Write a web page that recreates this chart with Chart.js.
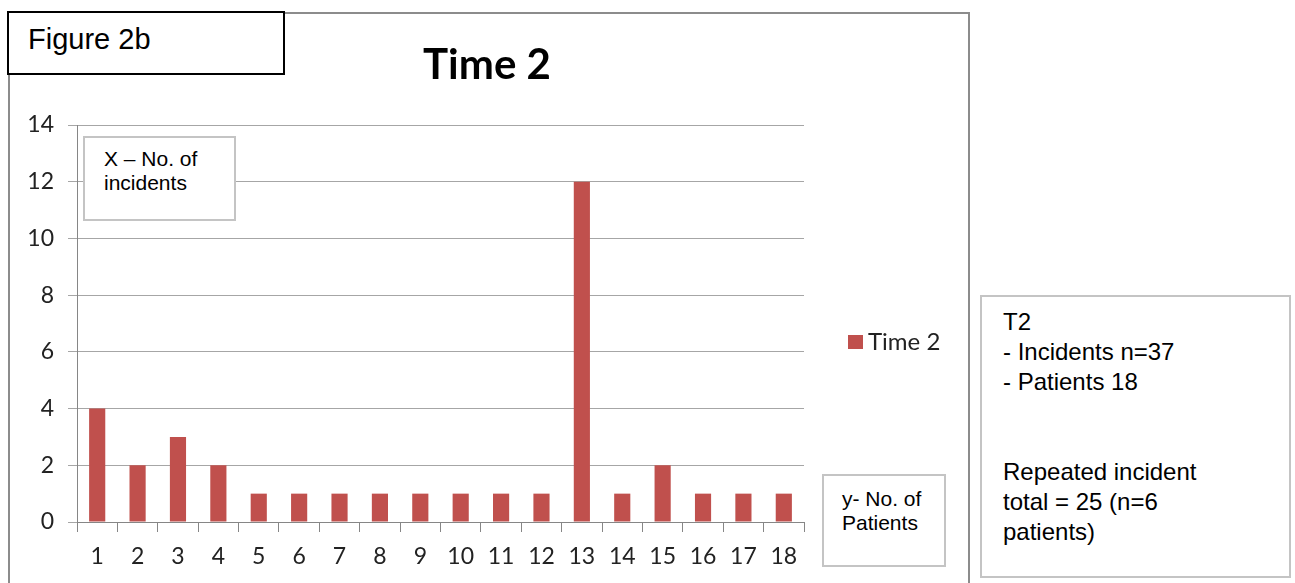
<!DOCTYPE html>
<html>
<head>
<meta charset="utf-8">
<title>Time 2</title>
<script src="https://cdn.jsdelivr.net/npm/chart.js@4.4.1/dist/chart.umd.min.js"></script>
<style>
  html, body { margin: 0; padding: 0; background: #fff; }
  body { width: 1295px; height: 583px; position: relative; overflow: hidden; }
  .frame { position: absolute; left: 8px; top: 12px; width: 962px; height: 640px;
           border: 2px solid #8c8c8c; box-sizing: border-box; }
  #wrap { position: absolute; left: 0; top: 0; width: 1295px; height: 583px; }
  .box { position: absolute; box-sizing: border-box; background: #fff;
         font-family: "Liberation Sans", Arial, sans-serif; color: #000; }
  .fig { left: 7px; top: 11px; width: 278px; height: 64px; border: 2px solid #000;
         font-size: 29px; line-height: 34px; padding: 9px 0 0 19px; }
  .title { position: absolute; left: 300px; width: 374px; top: 38px; text-align: center;
           font-family: Lato, "Open Sans", sans-serif; font-weight: bold; font-size: 42px; color: #000; }
  .xnote { left: 83px; top: 136px; width: 153px; height: 85px; border: 2px solid #c4c4c4;
           font-size: 21px; line-height: 24px; padding: 9px 0 0 19px; }
  .ynote { left: 822px; top: 474px; width: 124px; height: 93px; border: 2px solid #c4c4c4;
           font-size: 21px; line-height: 24px; padding: 11px 0 0 18px; }
  .side { left: 980px; top: 295px; width: 311px; height: 283px; border: 2px solid #c4c4c4;
          font-size: 24px; line-height: 30px; padding: 10px 0 0 21px; }
</style>
</head>
<body>
<div class="frame"></div>
<div id="wrap"><canvas id="chart"></canvas></div>
<div class="title">Time 2</div>
<div class="box fig">Figure 2b</div>
<div class="box xnote">X – No. of<br>incidents</div>
<div class="box ynote">y- No. of<br>Patients</div>
<div class="box side">T2<br>- Incidents n=37<br>- Patients 18<br><br><br>Repeated incident<br>total = 25 (n=6<br>patients)</div>
<script>
// incidents per patient at time 2
var patients = ['1', '2', '3', '4', '5', '6', '7', '8', '9', '10', '11', '12', '13', '14', '15', '16', '17', '18'];
var incidents = [4, 2, 3, 2, 1, 1, 1, 1, 1, 1, 1, 1, 12, 1, 2, 1, 1, 1];
var yTicks = [0, 2, 4, 6, 8, 10, 12, 14];

var seriesName = 'Time 2';
var barColor = '#C0504D';
var axisGrey = '#868686';

// legend drawn beside the plot, taken from the dataset itself
var sideLegend = {
    id: 'sideLegend',
    afterDraw: function (chart) {
        var ctx = chart.ctx;
        var ds = chart.data.datasets[0];
        var x = chart.chartArea.right + 44;
        var y = 342;
        ctx.save();
        ctx.fillStyle = ds.backgroundColor;
        ctx.fillRect(x, y - 7, 15, 14);
        ctx.fillStyle = '#222';
        ctx.font = '24px Lato, "Open Sans", sans-serif';
        ctx.textBaseline = 'middle';
        ctx.fillText(ds.label, x + 20, y);
        ctx.restore();
    }
};

new Chart(document.getElementById('chart'), {
    type: 'bar',
    data: {
        labels: patients,
        datasets: [{
            label: seriesName,
            data: incidents,
            backgroundColor: barColor,
            categoryPercentage: 1,
            barPercentage: 0.4
        }]
    },
    options: {
        responsive: true,
        maintainAspectRatio: false,
        animation: false,
        layout: { padding: { top: 125, left: 0, right: 491, bottom: 0 } },
        plugins: {
            legend: { display: false },
            title: { display: false },
            tooltip: { enabled: false }
        },
        scales: {
            x: {
                afterFit: function (scale) { scale.height = 61; },
                grid: { drawOnChartArea: false, drawTicks: true, tickLength: 10, color: axisGrey, offset: true },
                border: { display: true, color: axisGrey },
                ticks: { color: '#222', padding: 11, font: { family: 'Lato', size: 23 } }
            },
            y: {
                min: 0,
                max: 14,
                afterFit: function (scale) { scale.width = 77; },
                afterBuildTicks: function (scale) {
                    scale.ticks = yTicks.map(function (v) { return { value: v }; });
                },
                grid: { color: '#a6a6a6', tickLength: 9, drawTicks: true },
                border: { display: true, color: axisGrey },
                ticks: { color: '#222', padding: 14, font: { family: 'Lato', size: 23 } }
            }
        }
    },
    plugins: [sideLegend]
});
</script>
</body>
</html>
